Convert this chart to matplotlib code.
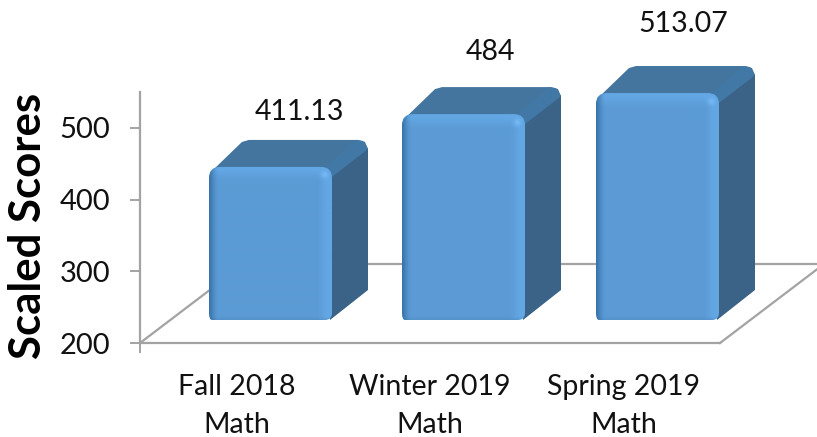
"""
3D style bar chart of scaled math scores, drawn on plain 2D axes.
"""

import matplotlib
matplotlib.use("Agg")
import matplotlib.pyplot as plt
from matplotlib.patches import PathPatch, Polygon
from matplotlib.path import Path
import numpy as np

categories = ["Fall 2018\nMath", "Winter 2019\nMath", "Spring 2019\nMath"]
scores = [411.13, 484, 513.07]
score_labels = ["411.13", "484", "513.07"]
y_ticks = [200, 300, 400, 500]

# label placement above the front face (pixels)
label_dx = [29, 26, 26]
label_dy = [55, 62, 69]

W, H = 817, 437
AX_L, AX_R, AX_BOT, AX_TOP = 140, 720, 343, 92
Y_MIN, Y_MAX = 200, 550

GREY = "#a3a3a3"
FACE = np.array([0x5b, 0x9b, 0xd5]) / 255
LIGHT = np.array([0x62, 0xa6, 0xe3]) / 255
DARK = np.array([0x38, 0x72, 0xa8]) / 255

plt.rcParams["font.family"] = ["Lato", "DejaVu Sans"]

fig = plt.figure(figsize=(W / 100, H / 100), dpi=100)
ax = fig.add_axes([AX_L / W, 1 - AX_BOT / H, (AX_R - AX_L) / W, (AX_BOT - AX_TOP) / H])
ax.set_xlim(-0.5, 2.5)
ax.set_ylim(Y_MIN, Y_MAX)

px_x = (AX_R - AX_L) / 3
px_y = (AX_BOT - AX_TOP) / (Y_MAX - Y_MIN)


def to_data(points):
    # (x, y) in image pixels -> data coords of ax
    pts = np.array(points, dtype=float)
    return np.column_stack([
        (pts[:, 0] - AX_L) / px_x - 0.5,
        Y_MIN + (AX_BOT - pts[:, 1]) / px_y,
    ])


def rounded_path(x0, y0, x1, y1, rt, rb):
    # rectangle in image pixels, y0 is the top edge
    verts = [
        (x0, y1 - rb), (x0, y0 + rt), (x0, y0), (x0 + rt, y0),
        (x1 - rt, y0), (x1, y0), (x1, y0 + rt),
        (x1, y1 - rb), (x1, y1), (x1 - rb, y1),
        (x0 + 3, y1), (x0, y1), (x0, y1 - rb), (x0, y1 - rb),
    ]
    codes = [
        Path.MOVETO, Path.LINETO, Path.CURVE3, Path.CURVE3,
        Path.LINETO, Path.CURVE3, Path.CURVE3,
        Path.LINETO, Path.CURVE3, Path.CURVE3,
        Path.LINETO, Path.CURVE3, Path.CURVE3, Path.CLOSEPOLY,
    ]
    return Path(to_data(verts), codes)


def face_shading(w, h):
    # left dark edge, soft light band on the right, soft light band along the top
    img = np.ones((h, w, 3)) * FACE
    for j in range(min(14, h)):
        a = 1 - max(0, j - 4) / 10
        img[j] = img[j] * (1 - a) + LIGHT * a
    for i in range(w):
        if i < 9:
            a = (1 - i / 9) ** 1.5
            img[:, i] = img[:, i] * (1 - a) + DARK * a
        right = w - 1 - i
        if right < 14:
            a = min(1.0, (14 - right) / 9)
            img[:, i] = img[:, i] * (1 - a) + LIGHT * a
    for j in range(3):
        a = (3 - j) / 3 * 0.2
        img[h - 1 - j] = img[h - 1 - j] * (1 - a) + DARK * a
    # soft highlight where the top and right bevels meet
    jj, ii = np.mgrid[0:h, 0:w]
    glow = np.exp(-((ii - (w - 8)) ** 2 + (jj - 8) ** 2) / 14.0)[..., None]
    return np.clip(img + glow * 0.07, 0, 1)


# floor
floor = to_data([(AX_L, AX_BOT), (AX_L + 104, AX_BOT - 79), (AX_R + 104, AX_BOT - 79), (AX_R, AX_BOT)])
ax.plot(floor[:2, 0], floor[:2, 1], color=GREY, lw=1.6, clip_on=False, zorder=1)
ax.plot(floor[1:3, 0], floor[1:3, 1], color=GREY, lw=1.6, clip_on=False, zorder=1)
ax.plot(floor[2:, 0], floor[2:, 1], color=GREY, lw=1.6, clip_on=False, zorder=1)

# bars
BASE_Y = 320
BAR_SCALE = 0.725
FRONT_W = 123
DEPTH_X, DEPTH_Y = 36, 27

for i, value in enumerate(scores):
    x_mid = ax.transData.transform((i, Y_MIN))[0] + 34
    x0, x1 = round(x_mid - FRONT_W / 2), round(x_mid + FRONT_W / 2)
    top = BASE_Y - (value - Y_MIN) * BAR_SCALE
    back_top = top - DEPTH_Y

    side = [(x1 - 2, top + 8), (x1 + DEPTH_X, back_top + 8), (x1 + DEPTH_X, BASE_Y - DEPTH_Y - 3), (x1 - 2, BASE_Y)]
    ax.add_patch(Polygon(to_data(side), closed=True, fc="#3b6388", ec="none", zorder=3, clip_on=False))

    roof = [(x0 + 3, top + 4), (x0 + DEPTH_X - 3, back_top + 2), (x0 + DEPTH_X + 4, back_top), (x1 + DEPTH_X - 10, back_top),
            (x1 + DEPTH_X - 3, back_top + 2), (x1 + DEPTH_X, back_top + 9), (x1, top + 9), (x1 - 8, top + 2)]
    ax.add_patch(Polygon(to_data(roof), closed=True, fc="#44759f", ec="none", zorder=3, clip_on=False))

    band = [(x1 - 8, top + 1), (x1 + DEPTH_X - 12, back_top), (x1 + DEPTH_X - 5, back_top + 1),
            (x1 + DEPTH_X, back_top + 9), (x1, top + 10)]
    ax.add_patch(Polygon(to_data(band), closed=True, fc="#4278a6", ec="none", zorder=3, clip_on=False))

    w, h = x1 - x0, int(round(BASE_Y - top))
    ext = to_data([(x0, BASE_Y), (x1, top)])
    im = ax.imshow(face_shading(w, h), extent=[ext[0, 0], ext[1, 0], ext[0, 1], ext[1, 1]],
                   aspect="auto", origin="upper", zorder=4, interpolation="bilinear", clip_on=True)
    clip = PathPatch(rounded_path(x0, top, x1, BASE_Y, 11, 7), transform=ax.transData)
    im.set_clip_path(clip)

    ax.annotate(score_labels[i], xy=to_data([(x_mid, top)])[0],
                xytext=(label_dx[i], label_dy[i]), textcoords="offset pixels",
                ha="center", va="center", fontsize=20.5, color="#111111", annotation_clip=False)

ax.set_xlim(-0.5, 2.5)
ax.set_ylim(Y_MIN, Y_MAX)

# axes styling
for name in ("top", "right"):
    ax.spines[name].set_visible(False)
for name in ("left", "bottom"):
    ax.spines[name].set_color(GREY)
    ax.spines[name].set_linewidth(1.6)

ax.set_yticks(y_ticks)
ax.tick_params(axis="y", length=7, width=1.4, color=GREY, labelsize=21, pad=14.5, labelcolor="#111111")
ax.set_xticks(range(len(categories)))
ax.set_xticklabels(categories, linespacing=1.58)
ax.tick_params(axis="x", length=0, labelsize=20.5, pad=22, labelcolor="#111111")
ax.set_xticks([-0.5], minor=True)
ax.tick_params(axis="x", which="minor", length=7, width=1.4, color=GREY)

fig.text(28 / W, 1 - 226 / H, "Scaled Scores", rotation=90, ha="center", va="center",
         fontsize=31.5, fontweight="bold", color="black")

fig.savefig("out.png", dpi=100, facecolor="white")
plt.close(fig)
